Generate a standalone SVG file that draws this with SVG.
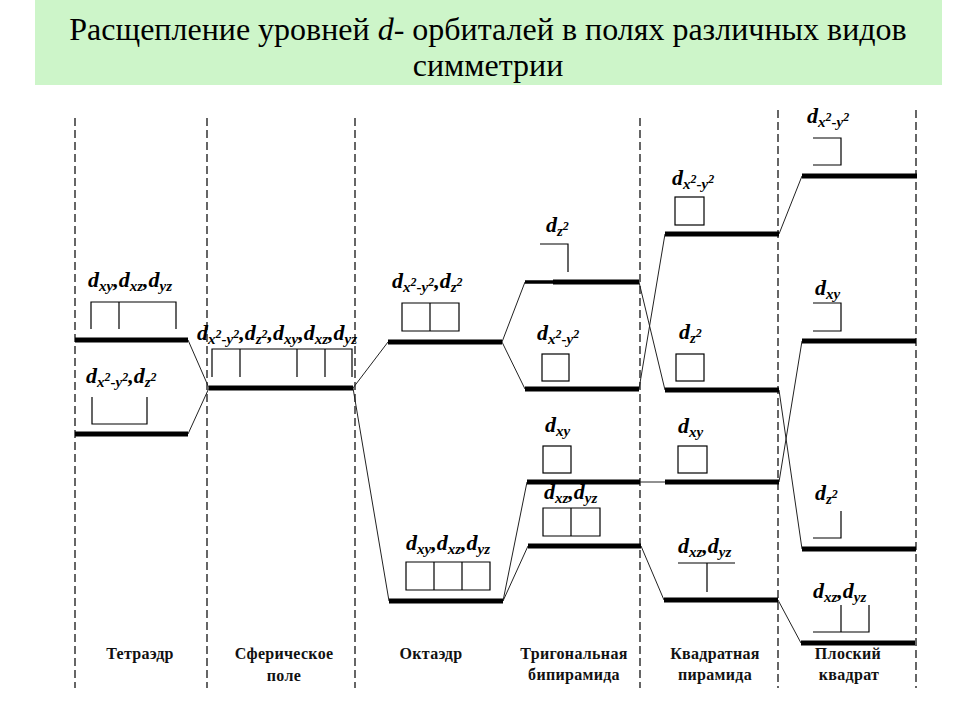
<svg xmlns="http://www.w3.org/2000/svg" width="960" height="720" viewBox="0 0 960 720">
<style>
text{font-family:"Liberation Serif","DejaVu Serif","Times New Roman",Times,serif}
.title{font-size:32px;fill:#000;text-anchor:middle}
.lbl{font-size:22px;font-weight:bold;font-style:italic;fill:#000}
.s{font-size:15px}
.p{font-size:12px}
.cap{font-size:16px;font-weight:bold;fill:#111;text-anchor:middle;letter-spacing:0.3px}
.dash{stroke:#000;stroke-width:1.2;stroke-dasharray:8,4;fill:none}
.lvl{stroke:#000;stroke-width:5;fill:none}
.box{stroke:#000;stroke-width:1.2;fill:none}
.con{stroke:#222;stroke-width:1;fill:none}
</style>
<rect width="960" height="720" fill="#fff"/>
<g id="title">
<rect x="35" y="0" width="907" height="85" fill="#cdf5c9"/>
<text class="title" x="488" y="40">Расщепление уровней <tspan font-style="italic">d</tspan>- орбиталей в полях различных видов</text>
<text class="title" x="488" y="76">симметрии</text>
</g>
<g id="separators">
<line class="dash" x1="75" y1="118" x2="75" y2="688"/>
<line class="dash" x1="207" y1="118" x2="207" y2="688"/>
<line class="dash" x1="355" y1="118" x2="355" y2="688"/>
<line class="dash" x1="640" y1="118" x2="640" y2="688"/>
<line class="dash" x1="778" y1="110" x2="778" y2="688"/>
<line class="dash" x1="916" y1="110" x2="916" y2="688"/>
</g>
<g id="connectors">
<line class="con" x1="188" y1="340" x2="209" y2="388"/>
<line class="con" x1="188" y1="434" x2="209" y2="388"/>
<line class="con" x1="353" y1="388" x2="388" y2="342"/>
<line class="con" x1="353" y1="388" x2="389" y2="601"/>
<line class="con" x1="502" y1="342" x2="525" y2="282"/>
<line class="con" x1="502" y1="342" x2="525" y2="389"/>
<line class="con" x1="503" y1="601" x2="527" y2="482"/>
<line class="con" x1="503" y1="601" x2="528" y2="546"/>
<line class="con" x1="639" y1="282" x2="665" y2="390"/>
<line class="con" x1="639" y1="389" x2="665" y2="234"/>
<line class="con" x1="640" y1="482" x2="665" y2="482"/>
<line class="con" x1="641" y1="546" x2="664" y2="600"/>
<line class="con" x1="779" y1="234" x2="802" y2="176"/>
<line class="con" x1="779" y1="390" x2="802" y2="549"/>
<line class="con" x1="779" y1="482" x2="802" y2="341"/>
<line class="con" x1="778" y1="600" x2="801" y2="643"/>
</g>
<g id="tetra-t2">
<line class="lvl" x1="75" y1="340" x2="188" y2="340"/>
<path class="box" d="M91,329 V302 H176 V329 M119,302 V329"/>
<text class="lbl" x="88" y="287">d<tspan class="s" dy="4">xy</tspan><tspan dy="-4">,d</tspan><tspan class="s" dy="4">xz</tspan><tspan dy="-4">,d</tspan><tspan class="s" dy="4">yz</tspan></text>
</g>
<g id="tetra-e">
<line class="lvl" x1="75" y1="434" x2="188" y2="434"/>
<path class="box" d="M92,397 V424 H147 V397"/>
<text class="lbl" x="86" y="383">d<tspan class="s" dy="4">x</tspan><tspan class="p" dy="-6">2</tspan><tspan class="s" dy="6">-y</tspan><tspan class="p" dy="-6">2</tspan><tspan dy="2">,d</tspan><tspan class="s" dy="4">z</tspan><tspan class="p" dy="-6">2</tspan></text>
</g>
<g id="sphere">
<line class="lvl" x1="209" y1="388" x2="353" y2="388"/>
<path class="box" d="M212,377 V349 H352 V377 M240,349 V377 M297,349 V377 M325,349 V377"/>
<text class="lbl" x="197" y="340">d<tspan class="s" dy="4">x</tspan><tspan class="p" dy="-6">2</tspan><tspan class="s" dy="6">-y</tspan><tspan class="p" dy="-6">2</tspan><tspan dy="2">,d</tspan><tspan class="s" dy="4">z</tspan><tspan class="p" dy="-6">2</tspan><tspan dy="2">,d</tspan><tspan class="s" dy="4">xy</tspan><tspan dy="-4">,d</tspan><tspan class="s" dy="4">xz</tspan><tspan dy="-4">,d</tspan><tspan class="s" dy="4">yz</tspan></text>
</g>
<g id="octa-eg">
<line class="lvl" x1="388" y1="342" x2="502" y2="342"/>
<path class="box" d="M402,303 H459 V331 H402 Z M430,303 V331"/>
<text class="lbl" x="392" y="288">d<tspan class="s" dy="4">x</tspan><tspan class="p" dy="-6">2</tspan><tspan class="s" dy="6">-y</tspan><tspan class="p" dy="-6">2</tspan><tspan dy="2">,d</tspan><tspan class="s" dy="4">z</tspan><tspan class="p" dy="-6">2</tspan></text>
</g>
<g id="octa-t2g">
<line class="lvl" x1="389" y1="601" x2="503" y2="601"/>
<path class="box" d="M406,562 H490 V590 H406 Z M434,562 V590 M462,562 V590"/>
<text class="lbl" x="406" y="550">d<tspan class="s" dy="4">xy</tspan><tspan dy="-4">,d</tspan><tspan class="s" dy="4">xz</tspan><tspan dy="-4">,d</tspan><tspan class="s" dy="4">yz</tspan></text>
</g>
<g id="trig-z2">
<line stroke="#000" stroke-width="3.5" x1="525" y1="282" x2="553" y2="282"/>
<line class="lvl" x1="553" y1="282" x2="639" y2="282"/>
<path class="box" d="M540,244 H568 V272"/>
<text class="lbl" x="546" y="232">d<tspan class="s" dy="4">z</tspan><tspan class="p" dy="-6">2</tspan></text>
</g>
<g id="trig-x2y2">
<line class="lvl" x1="525" y1="389" x2="639" y2="389"/>
<rect class="box" x="542" y="354" width="27" height="27"/>
<text class="lbl" x="537" y="340">d<tspan class="s" dy="4">x</tspan><tspan class="p" dy="-6">2</tspan><tspan class="s" dy="6">-y</tspan><tspan class="p" dy="-6">2</tspan></text>
</g>
<g id="trig-xy">
<line class="lvl" x1="527" y1="482" x2="640" y2="482"/>
<rect class="box" x="543" y="446" width="28" height="27"/>
<text class="lbl" x="545" y="432">d<tspan class="s" dy="4">xy</tspan></text>
</g>
<g id="trig-xz">
<line class="lvl" x1="528" y1="546" x2="641" y2="546"/>
<path class="box" d="M543,508 H600 V536 H543 Z M571,508 V536"/>
<text class="lbl" x="544" y="499">d<tspan class="s" dy="4">xz</tspan><tspan dy="-4">,d</tspan><tspan class="s" dy="4">yz</tspan></text>
</g>
<g id="sqpyr-x2y2">
<line class="lvl" x1="665" y1="234" x2="779" y2="234"/>
<rect class="box" x="675" y="197" width="29" height="28"/>
<text class="lbl" x="672" y="185">d<tspan class="s" dy="4">x</tspan><tspan class="p" dy="-6">2</tspan><tspan class="s" dy="6">-y</tspan><tspan class="p" dy="-6">2</tspan></text>
</g>
<g id="sqpyr-z2">
<line class="lvl" x1="665" y1="390" x2="779" y2="390"/>
<rect class="box" x="676" y="354" width="28" height="27"/>
<text class="lbl" x="679" y="339">d<tspan class="s" dy="4">z</tspan><tspan class="p" dy="-6">2</tspan></text>
</g>
<g id="sqpyr-xy">
<line class="lvl" x1="665" y1="482" x2="779" y2="482"/>
<rect class="box" x="678" y="446" width="29" height="27"/>
<text class="lbl" x="678" y="433">d<tspan class="s" dy="4">xy</tspan></text>
</g>
<g id="sqpyr-xz">
<line class="lvl" x1="664" y1="600" x2="778" y2="600"/>
<path class="box" d="M678,563 H735 M707,563 V592"/>
<text class="lbl" x="678" y="553">d<tspan class="s" dy="4">xz</tspan><tspan dy="-4">,d</tspan><tspan class="s" dy="4">yz</tspan></text>
</g>
<g id="planar-x2y2">
<line class="lvl" x1="802" y1="176" x2="917" y2="176"/>
<path class="box" d="M813,138 H841 V165 H813"/>
<text class="lbl" x="807" y="123">d<tspan class="s" dy="4">x</tspan><tspan class="p" dy="-6">2</tspan><tspan class="s" dy="6">-y</tspan><tspan class="p" dy="-6">2</tspan></text>
</g>
<g id="planar-xy">
<line class="lvl" x1="802" y1="341" x2="916" y2="341"/>
<path class="box" d="M813,303 H841 V331 H813"/>
<text class="lbl" x="815" y="295">d<tspan class="s" dy="4">xy</tspan></text>
</g>
<g id="planar-z2">
<line class="lvl" x1="802" y1="549" x2="916" y2="549"/>
<path class="box" d="M841,511 V538 H813"/>
<text class="lbl" x="815" y="500">d<tspan class="s" dy="4">z</tspan><tspan class="p" dy="-6">2</tspan></text>
</g>
<g id="planar-xz">
<line class="lvl" x1="801" y1="643" x2="915" y2="643"/>
<path class="box" d="M813,632 H869 V605 M841,605 V632"/>
<text class="lbl" x="813" y="598">d<tspan class="s" dy="4">xz</tspan><tspan dy="-4">,d</tspan><tspan class="s" dy="4">yz</tspan></text>
</g>
<g id="captions">
<text class="cap" x="140" y="659">Тетраэдр</text>
<text class="cap" x="284" y="659">Сферическое</text>
<text class="cap" x="284" y="681">поле</text>
<text class="cap" x="431" y="659">Октаэдр</text>
<text class="cap" x="574" y="659">Тригональная</text>
<text class="cap" x="574" y="680">бипирамида</text>
<text class="cap" x="715" y="659">Квадратная</text>
<text class="cap" x="715" y="680">пирамида</text>
<text class="cap" x="848" y="659">Плоский</text>
<text class="cap" x="849" y="680">квадрат</text>
</g>
</svg>
